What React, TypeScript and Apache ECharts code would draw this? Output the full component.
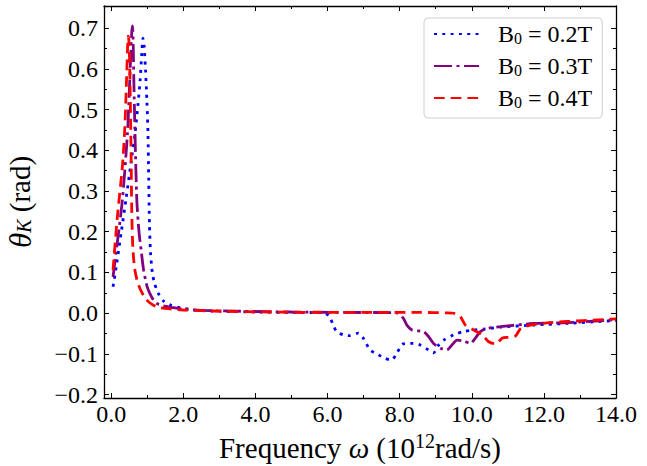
import React, { useEffect, useRef } from 'react';
import * as echarts from 'echarts';

const FONT = 'Liberation Serif';

// B0 = 0.2T
const freqB02 = [0.05, 0.15, 0.28, 0.41, 0.55, 0.66, 0.74, 0.8, 0.85, 0.88, 0.91, 0.95, 0.99, 1.02, 1.04, 1.06, 1.09, 1.14, 1.2, 1.3, 1.45, 1.65, 1.9, 2.3, 3.0, 4.0, 5.0, 5.93, 6.07, 6.16, 6.25, 6.44, 6.62, 6.85, 6.99, 7.18, 7.41, 7.6, 7.78, 7.92, 8.1, 8.38, 8.57, 8.8, 8.94, 9.08, 9.22, 9.5, 9.77, 10.05, 10.33, 10.8, 11.72, 12.65, 13.58, 14.0];
const thetaB02 = [0.065, 0.12, 0.2, 0.28, 0.37, 0.44, 0.51, 0.57, 0.64, 0.675, 0.66, 0.6, 0.52, 0.44, 0.33, 0.22, 0.15, 0.1, 0.074, 0.05, 0.03, 0.02, 0.014, 0.008, 0.005, 0.003, 0.002, 0.001, -0.012, -0.029, -0.045, -0.053, -0.055, -0.049, -0.061, -0.09, -0.102, -0.111, -0.115, -0.098, -0.075, -0.074, -0.078, -0.09, -0.097, -0.078, -0.066, -0.053, -0.045, -0.041, -0.039, -0.034, -0.029, -0.025, -0.02, -0.018];

// B0 = 0.3T
const freqB03 = [0.05, 0.15, 0.31, 0.45, 0.5, 0.54, 0.57, 0.59, 0.61, 0.63, 0.66, 0.71, 0.77, 0.83, 0.9, 1.0, 1.12, 1.25, 1.45, 1.7, 2.0, 2.5, 3.5, 5.0, 6.5, 7.92, 8.1, 8.2, 8.34, 8.48, 8.66, 8.8, 8.94, 9.13, 9.31, 9.45, 9.59, 9.77, 9.96, 10.1, 10.24, 10.43, 10.8, 11.72, 12.65, 14.0];
const thetaB03 = [0.089, 0.16, 0.278, 0.44, 0.54, 0.63, 0.69, 0.705, 0.66, 0.56, 0.44, 0.278, 0.2, 0.155, 0.105, 0.064, 0.04, 0.025, 0.018, 0.014, 0.01, 0.007, 0.005, 0.003, 0.002, 0.001, -0.012, -0.029, -0.041, -0.043, -0.045, -0.057, -0.074, -0.086, -0.09, -0.078, -0.066, -0.068, -0.074, -0.061, -0.045, -0.037, -0.033, -0.025, -0.023, -0.016];

// B0 = 0.4T
const freqB04 = [0.05, 0.17, 0.31, 0.38, 0.42, 0.45, 0.47, 0.49, 0.51, 0.53, 0.55, 0.57, 0.6, 0.65, 0.72, 0.8, 0.92, 1.05, 1.25, 1.5, 2.0, 3.0, 4.5, 6.0, 7.5, 8.5, 9.3, 9.5, 9.68, 9.82, 10.05, 10.29, 10.47, 10.66, 10.85, 11.02, 11.21, 11.36, 11.63, 12.19, 13.1, 14.0];
const thetaB04 = [0.106, 0.236, 0.36, 0.46, 0.56, 0.64, 0.68, 0.67, 0.62, 0.52, 0.4, 0.25, 0.16, 0.11, 0.08, 0.06, 0.04, 0.027, 0.016, 0.012, 0.008, 0.005, 0.003, 0.002, 0.002, 0.002, 0.001, 0.0, -0.008, -0.029, -0.041, -0.053, -0.07, -0.075, -0.061, -0.059, -0.056, -0.037, -0.029, -0.023, -0.018, -0.014];

const seriesNames = ['B0 = 0.2T', 'B0 = 0.3T', 'B0 = 0.4T'];
const seriesColors = ['#0000ff', '#800080', '#ff0000'];

const xMajorTicks = [0, 2, 4, 6, 8, 10, 12, 14];
const xMinorTicks = [1, 3, 5, 7, 9, 11, 13];
const yMajorTicks = [-0.2, -0.1, 0, 0.1, 0.2, 0.3, 0.4, 0.5, 0.6, 0.7];
const yMinorTicks = [-0.15, -0.05, 0.05, 0.15, 0.25, 0.35, 0.45, 0.55, 0.65];

const X_MIN = -0.2;
const X_MAX = 14;
const Y_MIN = -0.208;
const Y_MAX = 0.754;

const lineBlack = { color: '#000', width: 1 };

function xAxisDef(position: string, ticks: number[], len: number, main: boolean, withLabels: boolean) {
  const ax: any = {
    type: 'value',
    position,
    min: X_MIN,
    max: X_MAX,
    axisLine: { show: main, onZero: false, lineStyle: { color: '#000', width: 1.3 } },
    axisTick: { show: true, inside: true, length: len, customValues: ticks, lineStyle: lineBlack },
    axisLabel: { show: false },
    splitLine: { show: false },
  };
  if (withLabels) {
    ax.axisLabel = {
      show: true,
      customValues: xMajorTicks,
      formatter: (v: number) => v.toFixed(1),
      color: '#000',
      fontFamily: FONT,
      fontSize: 24,
      margin: 4,
    };
    ax.name = '{m|Frequency }{w|ω}{m| (10}{sup|12}{m|rad/s)}';
    ax.nameLocation = 'middle';
    ax.nameGap = 29;
    ax.nameTextStyle = {
      color: '#000',
      fontFamily: FONT,
      fontSize: 29,
      lineHeight: 34,
      rich: {
        m: { fontFamily: FONT, fontSize: 29, lineHeight: 34, color: '#000' },
        w: { fontFamily: FONT, fontSize: 29, lineHeight: 34, fontStyle: 'italic', color: '#000' },
        sup: { fontFamily: FONT, fontSize: 20, lineHeight: 14, verticalAlign: 'top', color: '#000' },
      },
    };
  }
  return ax;
}

function yAxisDef(position: string, ticks: number[], len: number, main: boolean, withLabels: boolean) {
  const ax: any = {
    type: 'value',
    position,
    min: Y_MIN,
    max: Y_MAX,
    axisLine: { show: main, onZero: false, lineStyle: { color: '#000', width: 1.3 } },
    axisTick: { show: true, inside: true, length: len, customValues: ticks, lineStyle: lineBlack },
    axisLabel: { show: false },
    splitLine: { show: false },
  };
  if (withLabels) {
    ax.axisLabel = {
      show: true,
      customValues: yMajorTicks,
      formatter: (v: number) => (v < -1e-9 ? '\u2212' : '') + Math.abs(v).toFixed(1),
      color: '#000',
      fontFamily: FONT,
      fontSize: 24,
      margin: 6,
    };
    ax.name = '{t|θ}{k|K}{m| (rad)}';
    ax.nameLocation = 'middle';
    ax.nameGap = 70;
    ax.nameTextStyle = {
      color: '#000',
      fontFamily: FONT,
      fontSize: 29,
      lineHeight: 28,
      rich: {
        t: { fontFamily: FONT, fontSize: 31, lineHeight: 28, fontStyle: 'italic', color: '#000' },
        k: { fontFamily: FONT, fontSize: 20, lineHeight: 8, fontStyle: 'italic', verticalAlign: 'bottom', color: '#000' },
        m: { fontFamily: FONT, fontSize: 29, lineHeight: 28, color: '#000' },
      },
    };
  }
  return ax;
}

const dashPatterns = [
  [3, 5.3],
  [18, 4.5, 3, 4.5],
  [10.7, 6],
];

const seriesData = [
  freqB02.map((f, i) => [f, thetaB02[i]]),
  freqB03.map((f, i) => [f, thetaB03[i]]),
  freqB04.map((f, i) => [f, thetaB04[i]]),
];

const option: any = {
  animation: false,
  backgroundColor: '#ffffff',
  grid: { left: 104, right: 31, top: 6, bottom: 68, containLabel: false, outerBoundsMode: 'none' },
  xAxis: [
    xAxisDef('bottom', xMajorTicks, 5, true, true),
    xAxisDef('bottom', xMinorTicks, 3, false, false),
    xAxisDef('top', xMajorTicks, 5, true, false),
    xAxisDef('top', xMinorTicks, 3, false, false),
  ],
  yAxis: [
    yAxisDef('left', yMajorTicks, 5, true, true),
    yAxisDef('left', yMinorTicks, 3, false, false),
    yAxisDef('right', yMajorTicks, 5, true, false),
    yAxisDef('right', yMinorTicks, 3, false, false),
  ],
  legend: {
    show: true,
    data: seriesNames,
    orient: 'vertical',
    left: 424,
    top: 18,
    padding: [4, 10, 8, 9],
    itemWidth: 45,
    itemHeight: 14,
    itemGap: 8,
    borderColor: '#d0d0d0',
    borderWidth: 1,
    borderRadius: 4,
    backgroundColor: 'rgba(255,255,255,0.85)',
    itemStyle: { opacity: 0 },
    formatter: (name: string) => name.replace('B0', 'B{s|0}'),
    textStyle: {
      fontFamily: FONT,
      fontSize: 24,
      color: '#000',
      lineHeight: 24,
      padding: [0, 0, 0, 14],
      rich: {
        s: { fontFamily: FONT, fontSize: 16, lineHeight: 8, verticalAlign: 'bottom', color: '#000' },
      },
    },
  },
  series: seriesNames.map((name, i) => ({
    name,
    type: 'line',
    xAxisIndex: 0,
    yAxisIndex: 0,
    data: seriesData[i],
    showSymbol: false,
    symbol: 'none',
    smooth: 0.25,
    color: seriesColors[i],
    lineStyle: { color: seriesColors[i], width: 2.8, type: dashPatterns[i], cap: 'butt' },
    z: 2 + i,
  })),
};

export default function App() {
  const ref = useRef<HTMLDivElement>(null);
  useEffect(() => {
    const chart = echarts.init(ref.current!, null, { renderer: 'svg' });
    chart.setOption(option);
    return () => chart.dispose();
  }, []);
  return (
    <div
      ref={ref}
      style={{ position: 'fixed', left: 0, top: 0, width: 647, height: 466, background: '#fff' }}
    />
  );
}
